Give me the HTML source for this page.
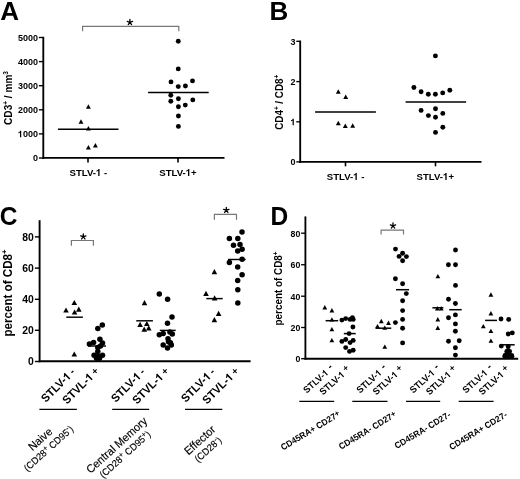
<!DOCTYPE html>
<html><head><meta charset="utf-8"><style>
html,body{margin:0;padding:0;background:#fff;}
body{width:520px;height:479px;overflow:hidden;}
svg{display:block;will-change:transform;font-family:"Liberation Sans",sans-serif;}
</style></head><body>
<svg width="520" height="479" viewBox="0 0 520 479" fill="#000">
<rect width="520" height="479" fill="#fff"></rect>
<text x="0.3" y="19.8" font-size="26" font-weight="bold" text-anchor="start">A</text>
<line x1="43.3" y1="36.8" x2="43.3" y2="158.9" stroke="#000" stroke-width="1.85"></line>
<line x1="42.4" y1="157.8" x2="224.5" y2="157.8" stroke="#000" stroke-width="1.85"></line>
<line x1="38.9" y1="37.5" x2="43.3" y2="37.5" stroke="#000" stroke-width="1.35"></line>
<text transform="translate(37.9 40.9) scale(1 1.04)" font-size="9" font-weight="bold" text-anchor="end">5000</text>
<line x1="38.9" y1="61.6" x2="43.3" y2="61.6" stroke="#000" stroke-width="1.35"></line>
<text transform="translate(37.9 65) scale(1 1.04)" font-size="9" font-weight="bold" text-anchor="end">4000</text>
<line x1="38.9" y1="85.7" x2="43.3" y2="85.7" stroke="#000" stroke-width="1.35"></line>
<text transform="translate(37.9 89.1) scale(1 1.04)" font-size="9" font-weight="bold" text-anchor="end">3000</text>
<line x1="38.9" y1="109.8" x2="43.3" y2="109.8" stroke="#000" stroke-width="1.35"></line>
<text transform="translate(37.9 113.2) scale(1 1.04)" font-size="9" font-weight="bold" text-anchor="end">2000</text>
<line x1="38.9" y1="133.9" x2="43.3" y2="133.9" stroke="#000" stroke-width="1.35"></line>
<text transform="translate(37.9 137.3) scale(1 1.04)" font-size="9" font-weight="bold" text-anchor="end"><tspan class="one" fill="transparent">1</tspan>000</text><path d="M478 0L759 0L759 1409L540 1409Q490 1300 380 1215Q275 1135 118 1085L118 862Q330 930 478 1040Z" transform="translate(37.9 137.3) scale(1 1.04) translate(-20.02 0.00) scale(0.004395 -0.004395)"></path>
<line x1="38.9" y1="158" x2="43.3" y2="158" stroke="#000" stroke-width="1.35"></line>
<text transform="translate(37.9 161.4) scale(1 1.04)" font-size="9" font-weight="bold" text-anchor="end">0</text>
<line x1="88" y1="158" x2="88" y2="162.5" stroke="#000" stroke-width="1.6"></line>
<line x1="178" y1="158" x2="178" y2="162.5" stroke="#000" stroke-width="1.6"></line>
<text transform="translate(88.35 175.9) scale(1 1.04)" font-size="9.6" font-weight="bold" text-anchor="middle">STLV-<tspan class="one" fill="transparent">1</tspan> -</text><path d="M478 0L759 0L759 1409L540 1409Q490 1300 380 1215Q275 1135 118 1085L118 862Q330 930 478 1040Z" transform="translate(88.35 175.9) scale(1 1.04) translate(7.63 0.00) scale(0.004687 -0.004687)"></path>
<text transform="translate(178 175.9) scale(1 1.04)" font-size="9.6" font-weight="bold" text-anchor="middle">STLV-<tspan class="one" fill="transparent">1</tspan>+</text><path d="M478 0L759 0L759 1409L540 1409Q490 1300 380 1215Q275 1135 118 1085L118 862Q330 930 478 1040Z" transform="translate(178 175.9) scale(1 1.04) translate(7.76 0.00) scale(0.004687 -0.004687)"></path>
<text transform="translate(11.6 98) rotate(-90) scale(1 1.04)" font-size="10.1" font-weight="bold" text-anchor="middle">CD3<tspan dy="-3.8" font-size="6.4">+</tspan><tspan dy="3.8"> / mm</tspan><tspan dy="-3.8" font-size="6.4">3</tspan></text>
<path d="M88.4 104.15L90.85 108.65L85.95 108.65Z"></path>
<path d="M81 119.15L83.45 123.65L78.55 123.65Z"></path>
<path d="M88.4 125.95L90.85 130.45L85.95 130.45Z"></path>
<path d="M88.4 145.05L90.85 149.55L85.95 149.55Z"></path>
<path d="M95.4 143.05L97.85 147.55L92.95 147.55Z"></path>
<circle cx="178.25" cy="41.25" r="2.45"></circle>
<circle cx="178.25" cy="68.9" r="2.45"></circle>
<circle cx="171" cy="81.9" r="2.45"></circle>
<circle cx="178.25" cy="86.6" r="2.45"></circle>
<circle cx="185.4" cy="86" r="2.45"></circle>
<circle cx="192.5" cy="80.9" r="2.45"></circle>
<circle cx="170.8" cy="95.2" r="2.45"></circle>
<circle cx="170.8" cy="101.3" r="2.45"></circle>
<circle cx="178.4" cy="98.7" r="2.45"></circle>
<circle cx="192.8" cy="99.9" r="2.45"></circle>
<circle cx="185.3" cy="105.1" r="2.45"></circle>
<circle cx="178.4" cy="106.8" r="2.45"></circle>
<circle cx="178.4" cy="116" r="2.45"></circle>
<circle cx="178.4" cy="126.4" r="2.45"></circle>
<line x1="58" y1="129.3" x2="118.5" y2="129.3" stroke="#000" stroke-width="1.5"></line>
<line x1="148.1" y1="92.5" x2="208.7" y2="92.5" stroke="#000" stroke-width="1.5"></line>
<path d="M82.6 31.3V26.4H178.8V31.3" fill="none" stroke="#777" stroke-width="1.2"></path>
<path d="M129.9 22.3L129.9 19.5M129.9 22.3L132.56 21.43M129.9 22.3L131.55 24.57M129.9 22.3L128.25 24.57M129.9 22.3L127.24 21.43" stroke="#000" stroke-width="1.3" stroke-linecap="round" fill="none"></path>
<text x="269.4" y="19.8" font-size="26" font-weight="bold" text-anchor="start">B</text>
<line x1="300.2" y1="40.6" x2="300.2" y2="162.8" stroke="#000" stroke-width="1.85"></line>
<line x1="299.3" y1="161.9" x2="481.5" y2="161.9" stroke="#000" stroke-width="1.85"></line>
<line x1="296.3" y1="41.3" x2="300.2" y2="41.3" stroke="#000" stroke-width="1.35"></line>
<text transform="translate(295.5 44.7) scale(1 1.04)" font-size="9" font-weight="bold" text-anchor="end">3</text>
<line x1="296.3" y1="81.6" x2="300.2" y2="81.6" stroke="#000" stroke-width="1.35"></line>
<text transform="translate(295.5 85) scale(1 1.04)" font-size="9" font-weight="bold" text-anchor="end">2</text>
<line x1="296.3" y1="121.8" x2="300.2" y2="121.8" stroke="#000" stroke-width="1.35"></line>
<text transform="translate(295.5 125.2) scale(1 1.04)" font-size="9" font-weight="bold" text-anchor="end"><tspan class="one" fill="transparent">1</tspan></text><path d="M478 0L759 0L759 1409L540 1409Q490 1300 380 1215Q275 1135 118 1085L118 862Q330 930 478 1040Z" transform="translate(295.5 125.2) scale(1 1.04) translate(-5.01 0.00) scale(0.004395 -0.004395)"></path>
<line x1="296.3" y1="161.9" x2="300.2" y2="161.9" stroke="#000" stroke-width="1.35"></line>
<text transform="translate(295.5 165.3) scale(1 1.04)" font-size="9" font-weight="bold" text-anchor="end">0</text>
<line x1="345.5" y1="161.9" x2="345.5" y2="166.3" stroke="#000" stroke-width="1.6"></line>
<line x1="435.5" y1="161.9" x2="435.5" y2="166.3" stroke="#000" stroke-width="1.6"></line>
<text transform="translate(345.6 179.9) scale(1 1.04)" font-size="9.6" font-weight="bold" text-anchor="middle">STLV-<tspan class="one" fill="transparent">1</tspan> -</text><path d="M478 0L759 0L759 1409L540 1409Q490 1300 380 1215Q275 1135 118 1085L118 862Q330 930 478 1040Z" transform="translate(345.6 179.9) scale(1 1.04) translate(7.63 0.00) scale(0.004687 -0.004687)"></path>
<text transform="translate(435.3 179.9) scale(1 1.04)" font-size="9.6" font-weight="bold" text-anchor="middle">STLV-<tspan class="one" fill="transparent">1</tspan>+</text><path d="M478 0L759 0L759 1409L540 1409Q490 1300 380 1215Q275 1135 118 1085L118 862Q330 930 478 1040Z" transform="translate(435.3 179.9) scale(1 1.04) translate(7.76 0.00) scale(0.004687 -0.004687)"></path>
<text transform="translate(283.1 102.3) rotate(-90) scale(1 1.04)" font-size="9.9" font-weight="bold" text-anchor="middle">CD4<tspan dy="-3.8" font-size="6.3">+</tspan><tspan dy="3.8"> / CD8</tspan><tspan dy="-3.8" font-size="6.3">+</tspan></text>
<path d="M338.3 89.35L340.75 93.85L335.85 93.85Z"></path>
<path d="M345.7 94.55L348.15 99.05L343.25 99.05Z"></path>
<path d="M338.3 120.85L340.75 125.35L335.85 125.35Z"></path>
<path d="M345.3 123.55L347.75 128.05L342.85 128.05Z"></path>
<path d="M352.7 123.25L355.15 127.75L350.25 127.75Z"></path>
<circle cx="435.4" cy="55.9" r="2.45"></circle>
<circle cx="413.9" cy="87.5" r="2.45"></circle>
<circle cx="421.1" cy="91.8" r="2.45"></circle>
<circle cx="428.3" cy="94.2" r="2.45"></circle>
<circle cx="435.4" cy="94.2" r="2.45"></circle>
<circle cx="442.7" cy="92.9" r="2.45"></circle>
<circle cx="449.8" cy="90.2" r="2.45"></circle>
<circle cx="421.1" cy="110.4" r="2.45"></circle>
<circle cx="435.5" cy="108.7" r="2.45"></circle>
<circle cx="428.4" cy="115.6" r="2.45"></circle>
<circle cx="435.5" cy="117.3" r="2.45"></circle>
<circle cx="442.8" cy="113.4" r="2.45"></circle>
<circle cx="442.8" cy="127.2" r="2.45"></circle>
<circle cx="435.5" cy="132.4" r="2.45"></circle>
<line x1="315.1" y1="112" x2="375.9" y2="112" stroke="#000" stroke-width="1.5"></line>
<line x1="405.6" y1="102.1" x2="466.1" y2="102.1" stroke="#000" stroke-width="1.5"></line>
<text transform="translate(-0.3 225.3) scale(1 1.04)" font-size="24.5" font-weight="bold" text-anchor="start">C</text>
<line x1="39.6" y1="220.2" x2="39.6" y2="362.2" stroke="#000" stroke-width="1.9"></line>
<line x1="38.65" y1="361.3" x2="250.6" y2="361.3" stroke="#000" stroke-width="1.9"></line>
<line x1="34.9" y1="236.9" x2="39.6" y2="236.9" stroke="#000" stroke-width="1.4"></line>
<text transform="translate(33.9 240.5) scale(1 1.04)" font-size="10.4" font-weight="bold" text-anchor="end">80</text>
<line x1="34.9" y1="268.1" x2="39.6" y2="268.1" stroke="#000" stroke-width="1.4"></line>
<text transform="translate(33.9 271.7) scale(1 1.04)" font-size="10.4" font-weight="bold" text-anchor="end">60</text>
<line x1="34.9" y1="299.3" x2="39.6" y2="299.3" stroke="#000" stroke-width="1.4"></line>
<text transform="translate(33.9 302.9) scale(1 1.04)" font-size="10.4" font-weight="bold" text-anchor="end">40</text>
<line x1="34.9" y1="330.3" x2="39.6" y2="330.3" stroke="#000" stroke-width="1.4"></line>
<text transform="translate(33.9 333.9) scale(1 1.04)" font-size="10.4" font-weight="bold" text-anchor="end">20</text>
<line x1="34.9" y1="361.5" x2="39.6" y2="361.5" stroke="#000" stroke-width="1.4"></line>
<text transform="translate(33.9 365.1) scale(1 1.04)" font-size="10.4" font-weight="bold" text-anchor="end">0</text>
<text transform="translate(11.9 293) rotate(-90) scale(1 1.04)" font-size="11.6" font-weight="bold" text-anchor="middle">percent of CD8<tspan dy="-4.6" font-size="7.7">+</tspan></text>
<path d="M74.3 299.92L77.1 305.08L71.5 305.08Z"></path>
<path d="M66 307.42L68.8 312.58L63.2 312.58Z"></path>
<path d="M74.6 309.42L77.4 314.58L71.8 314.58Z"></path>
<path d="M78.8 306.52L81.6 311.68L76 311.68Z"></path>
<path d="M74.3 351.42L77.1 356.58L71.5 356.58Z"></path>
<circle cx="97.8" cy="328.6" r="2.75"></circle>
<circle cx="102.3" cy="325.1" r="2.75"></circle>
<circle cx="89.4" cy="344" r="2.75"></circle>
<circle cx="93.6" cy="342.4" r="2.75"></circle>
<circle cx="99.9" cy="339.2" r="2.75"></circle>
<circle cx="102.5" cy="343" r="2.75"></circle>
<circle cx="97.8" cy="347.4" r="2.75"></circle>
<circle cx="94.1" cy="355.2" r="2.75"></circle>
<circle cx="102.5" cy="355.2" r="2.75"></circle>
<circle cx="97.8" cy="356.3" r="2.75"></circle>
<circle cx="97.8" cy="351.6" r="2.75"></circle>
<circle cx="96.5" cy="358.2" r="2.75"></circle>
<circle cx="99.5" cy="358.2" r="2.75"></circle>
<circle cx="100.5" cy="346" r="2.75"></circle>
<line x1="66.3" y1="317.2" x2="82.9" y2="317.2" stroke="#000" stroke-width="1.45"></line>
<line x1="88" y1="346" x2="106" y2="346" stroke="#000" stroke-width="1.45"></line>
<path d="M144.5 300.12L147.3 305.28L141.7 305.28Z"></path>
<path d="M140.1 321.82L142.9 326.98L137.3 326.98Z"></path>
<path d="M146.8 320.92L149.6 326.08L144 326.08Z"></path>
<path d="M144.2 326.62L147 331.78L141.4 331.78Z"></path>
<path d="M148.75 325.22L151.55 330.38L145.95 330.38Z"></path>
<circle cx="159.3" cy="293.9" r="2.75"></circle>
<circle cx="167.6" cy="299.2" r="2.75"></circle>
<circle cx="172" cy="316.9" r="2.75"></circle>
<circle cx="167.5" cy="323.3" r="2.75"></circle>
<circle cx="159.3" cy="334.8" r="2.75"></circle>
<circle cx="163.2" cy="333.6" r="2.75"></circle>
<circle cx="169.9" cy="332.1" r="2.75"></circle>
<circle cx="172.3" cy="334" r="2.75"></circle>
<circle cx="168" cy="338.8" r="2.75"></circle>
<circle cx="168.5" cy="341.7" r="2.75"></circle>
<circle cx="163.2" cy="345.1" r="2.75"></circle>
<circle cx="171.3" cy="345.1" r="2.75"></circle>
<circle cx="167.5" cy="348" r="2.75"></circle>
<circle cx="170.4" cy="342.7" r="2.75"></circle>
<line x1="136.25" y1="320.8" x2="152.9" y2="320.8" stroke="#000" stroke-width="1.45"></line>
<line x1="159.8" y1="330.4" x2="175.7" y2="330.4" stroke="#000" stroke-width="1.45"></line>
<path d="M214.4 269.12L217.2 274.28L211.6 274.28Z"></path>
<path d="M206 290.72L208.8 295.88L203.2 295.88Z"></path>
<path d="M214.6 295.32L217.4 300.48L211.8 300.48Z"></path>
<path d="M218.6 310.72L221.4 315.88L215.8 315.88Z"></path>
<path d="M214.4 317.02L217.2 322.18L211.6 322.18Z"></path>
<circle cx="242" cy="231.9" r="2.75"></circle>
<circle cx="229.4" cy="238.4" r="2.75"></circle>
<circle cx="237.8" cy="238.5" r="2.75"></circle>
<circle cx="233.5" cy="245.3" r="2.75"></circle>
<circle cx="240" cy="244.6" r="2.75"></circle>
<circle cx="242.1" cy="249.2" r="2.75"></circle>
<circle cx="237.7" cy="250.9" r="2.75"></circle>
<circle cx="242.1" cy="259.2" r="2.75"></circle>
<circle cx="229.4" cy="262.5" r="2.75"></circle>
<circle cx="237.7" cy="266.9" r="2.75"></circle>
<circle cx="242.1" cy="274.8" r="2.75"></circle>
<circle cx="237.7" cy="280.6" r="2.75"></circle>
<circle cx="237.8" cy="289.8" r="2.75"></circle>
<circle cx="237.8" cy="302.9" r="2.75"></circle>
<line x1="206.3" y1="298.6" x2="222.7" y2="298.6" stroke="#000" stroke-width="1.45"></line>
<line x1="228" y1="259.5" x2="245.6" y2="259.5" stroke="#000" stroke-width="1.45"></line>
<path d="M71.4 245.8V240.5H93.4V245.8" fill="none" stroke="#777" stroke-width="1.2"></path>
<path d="M83.3 236.7L83.3 233.9M83.3 236.7L85.96 235.83M83.3 236.7L84.95 238.97M83.3 236.7L81.65 238.97M83.3 236.7L80.64 235.83" stroke="#000" stroke-width="1.3" stroke-linecap="round" fill="none"></path>
<path d="M214.4 219.7V214.3H236.5V219.7" fill="none" stroke="#777" stroke-width="1.2"></path>
<path d="M226.3 210.2L226.3 207.4M226.3 210.2L228.96 209.33M226.3 210.2L227.95 212.47M226.3 210.2L224.65 212.47M226.3 210.2L223.64 209.33" stroke="#000" stroke-width="1.3" stroke-linecap="round" fill="none"></path>
<text transform="translate(45.8 403) rotate(-45) scale(1 1.04)" font-size="11.1" font-weight="bold">STLV-<tspan class="one" fill="transparent">1</tspan><tspan dx="2.4" dy="-0.2" font-size="11">-</tspan></text><path d="M478 0L759 0L759 1409L540 1409Q490 1300 380 1215Q275 1135 118 1085L118 862Q330 930 478 1040Z" transform="translate(45.8 403) rotate(-45) scale(1 1.04) translate(30.60 0.00) scale(0.005420 -0.005420)"></path>
<text transform="translate(67.1 404.8) rotate(-45) scale(1 1.04)" font-size="11.1" font-weight="bold">STVL-<tspan class="one" fill="transparent">1</tspan><tspan dx="2.5" dy="-0.8" font-size="9.6">+</tspan></text><path d="M478 0L759 0L759 1409L540 1409Q490 1300 380 1215Q275 1135 118 1085L118 862Q330 930 478 1040Z" transform="translate(67.1 404.8) rotate(-45) scale(1 1.04) translate(32.04 0.00) scale(0.005420 -0.005420)"></path>
<text transform="translate(115.8 403) rotate(-45) scale(1 1.04)" font-size="11.1" font-weight="bold">STLV-<tspan class="one" fill="transparent">1</tspan><tspan dx="2.4" dy="-0.2" font-size="11">-</tspan></text><path d="M478 0L759 0L759 1409L540 1409Q490 1300 380 1215Q275 1135 118 1085L118 862Q330 930 478 1040Z" transform="translate(115.8 403) rotate(-45) scale(1 1.04) translate(30.60 0.00) scale(0.005420 -0.005420)"></path>
<text transform="translate(137.1 404.8) rotate(-45) scale(1 1.04)" font-size="11.1" font-weight="bold">STVL-<tspan class="one" fill="transparent">1</tspan><tspan dx="2.5" dy="-0.8" font-size="9.6">+</tspan></text><path d="M478 0L759 0L759 1409L540 1409Q490 1300 380 1215Q275 1135 118 1085L118 862Q330 930 478 1040Z" transform="translate(137.1 404.8) rotate(-45) scale(1 1.04) translate(32.04 0.00) scale(0.005420 -0.005420)"></path>
<text transform="translate(185.8 403) rotate(-45) scale(1 1.04)" font-size="11.1" font-weight="bold">STLV-<tspan class="one" fill="transparent">1</tspan><tspan dx="2.4" dy="-0.2" font-size="11">-</tspan></text><path d="M478 0L759 0L759 1409L540 1409Q490 1300 380 1215Q275 1135 118 1085L118 862Q330 930 478 1040Z" transform="translate(185.8 403) rotate(-45) scale(1 1.04) translate(30.60 0.00) scale(0.005420 -0.005420)"></path>
<text transform="translate(207.1 404.8) rotate(-45) scale(1 1.04)" font-size="11.1" font-weight="bold">STVL-<tspan class="one" fill="transparent">1</tspan><tspan dx="2.5" dy="-0.8" font-size="9.6">+</tspan></text><path d="M478 0L759 0L759 1409L540 1409Q490 1300 380 1215Q275 1135 118 1085L118 862Q330 930 478 1040Z" transform="translate(207.1 404.8) rotate(-45) scale(1 1.04) translate(32.04 0.00) scale(0.005420 -0.005420)"></path>
<line x1="39.4" y1="409.4" x2="76.9" y2="409.4" stroke="#000" stroke-width="1.4"></line>
<line x1="112.2" y1="409.4" x2="149.2" y2="409.4" stroke="#000" stroke-width="1.4"></line>
<line x1="185" y1="409.4" x2="222.3" y2="409.4" stroke="#000" stroke-width="1.4"></line>
<g transform="translate(45 444.5) rotate(-42)"><text transform="translate(0 -3.3) scale(1 1.04)" font-size="10.9" text-anchor="middle" stroke="#000" stroke-width="0.15">Naive</text><text transform="translate(0 8.6) scale(1 1.04)" font-size="9.3" text-anchor="middle" stroke="#000" stroke-width="0.15">(CD28<tspan dy="-3.2" font-size="7.2">+</tspan><tspan dy="3.2"> CD95</tspan><tspan dy="-3.2" font-size="7.2">-</tspan><tspan dy="3.2">)</tspan></text></g>
<g transform="translate(121.5 450.5) rotate(-42)"><text transform="translate(0 -3.3) scale(1 1.04)" font-size="10.9" text-anchor="middle" stroke="#000" stroke-width="0.15">Central Memory</text><text transform="translate(0 8.6) scale(1 1.04)" font-size="9.3" text-anchor="middle" stroke="#000" stroke-width="0.15">(CD28<tspan dy="-3.2" font-size="7.2">+</tspan><tspan dy="3.2"> CD95</tspan><tspan dy="-3.2" font-size="7.2">+</tspan><tspan dy="3.2">)</tspan></text></g>
<g transform="translate(204.5 445.5) rotate(-42)"><text transform="translate(0 -3.3) scale(1 1.04)" font-size="10.9" text-anchor="middle" stroke="#000" stroke-width="0.15">Effector</text><text transform="translate(0 8.6) scale(1 1.04)" font-size="9.3" text-anchor="middle" stroke="#000" stroke-width="0.15">(CD28<tspan dy="-3.2" font-size="7.2">-</tspan><tspan dy="3.2">)</tspan></text></g>
<text transform="translate(270.6 225) scale(1 1.04)" font-size="24.5" font-weight="bold" text-anchor="start">D</text>
<line x1="305.4" y1="216.4" x2="305.4" y2="359.6" stroke="#000" stroke-width="1.85"></line>
<line x1="304.5" y1="358.7" x2="518.2" y2="358.7" stroke="#000" stroke-width="1.85"></line>
<line x1="301.1" y1="233.2" x2="305.4" y2="233.2" stroke="#000" stroke-width="1.35"></line>
<text transform="translate(300.4 236.5) scale(1 1.04)" font-size="8.8" font-weight="bold" text-anchor="end">80</text>
<line x1="301.1" y1="264.75" x2="305.4" y2="264.75" stroke="#000" stroke-width="1.35"></line>
<text transform="translate(300.4 268.05) scale(1 1.04)" font-size="8.8" font-weight="bold" text-anchor="end">60</text>
<line x1="301.1" y1="296.2" x2="305.4" y2="296.2" stroke="#000" stroke-width="1.35"></line>
<text transform="translate(300.4 299.5) scale(1 1.04)" font-size="8.8" font-weight="bold" text-anchor="end">40</text>
<line x1="301.1" y1="327.5" x2="305.4" y2="327.5" stroke="#000" stroke-width="1.35"></line>
<text transform="translate(300.4 330.8) scale(1 1.04)" font-size="8.8" font-weight="bold" text-anchor="end">20</text>
<line x1="301.1" y1="358.7" x2="305.4" y2="358.7" stroke="#000" stroke-width="1.35"></line>
<text transform="translate(300.4 362) scale(1 1.04)" font-size="8.8" font-weight="bold" text-anchor="end">0</text>
<text transform="translate(281.6 288.4) rotate(-90) scale(1 1.04)" font-size="9.9" font-weight="bold" text-anchor="middle">percent of CD8<tspan dy="-3.9" font-size="6.6">+</tspan></text>
<path d="M324.8 305.09L327.2 309.51L322.4 309.51Z"></path>
<path d="M331.9 308.09L334.3 312.51L329.5 312.51Z"></path>
<path d="M331.9 317.19L334.3 321.61L329.5 321.61Z"></path>
<path d="M331.9 326.89L334.3 331.31L329.5 331.31Z"></path>
<path d="M331.9 337.89L334.3 342.31L329.5 342.31Z"></path>
<circle cx="341.9" cy="320.1" r="2.45"></circle>
<circle cx="345.7" cy="318.6" r="2.45"></circle>
<circle cx="350.1" cy="319.4" r="2.45"></circle>
<circle cx="352.4" cy="317.6" r="2.45"></circle>
<circle cx="353.2" cy="319.4" r="2.45"></circle>
<circle cx="352.9" cy="327" r="2.45"></circle>
<circle cx="349.1" cy="333.6" r="2.45"></circle>
<circle cx="341.9" cy="341.4" r="2.45"></circle>
<circle cx="345.7" cy="339.5" r="2.45"></circle>
<circle cx="350.1" cy="342.6" r="2.45"></circle>
<circle cx="353.2" cy="340.4" r="2.45"></circle>
<circle cx="345.7" cy="347.6" r="2.45"></circle>
<circle cx="349.5" cy="351.4" r="2.45"></circle>
<circle cx="353.2" cy="350.2" r="2.45"></circle>
<line x1="325.6" y1="320.7" x2="338.2" y2="320.7" stroke="#000" stroke-width="1.5"></line>
<line x1="343.8" y1="333.6" x2="355.7" y2="333.6" stroke="#000" stroke-width="1.5"></line>
<path d="M381.3 318.79L383.7 323.21L378.9 323.21Z"></path>
<path d="M388.5 320.59L390.9 325.01L386.1 325.01Z"></path>
<path d="M377.5 323.89L379.9 328.31L375.1 328.31Z"></path>
<path d="M384.8 325.39L387.2 329.81L382.4 329.81Z"></path>
<path d="M384.8 344.39L387.2 348.81L382.4 348.81Z"></path>
<circle cx="395.5" cy="249.1" r="2.45"></circle>
<circle cx="402.6" cy="253.2" r="2.45"></circle>
<circle cx="399.1" cy="256.4" r="2.45"></circle>
<circle cx="406.4" cy="256.6" r="2.45"></circle>
<circle cx="402.6" cy="260.8" r="2.45"></circle>
<circle cx="395.4" cy="278.8" r="2.45"></circle>
<circle cx="402.6" cy="283.8" r="2.45"></circle>
<circle cx="406.3" cy="293.6" r="2.45"></circle>
<circle cx="402.6" cy="300.8" r="2.45"></circle>
<circle cx="402.6" cy="310.6" r="2.45"></circle>
<circle cx="402.6" cy="319.4" r="2.45"></circle>
<circle cx="395.4" cy="322.6" r="2.45"></circle>
<circle cx="402.6" cy="328.2" r="2.45"></circle>
<circle cx="402.6" cy="342.9" r="2.45"></circle>
<line x1="375.6" y1="328.2" x2="391.3" y2="328.2" stroke="#000" stroke-width="1.5"></line>
<line x1="396" y1="289.7" x2="409.1" y2="289.7" stroke="#000" stroke-width="1.5"></line>
<path d="M437.9 273.89L440.3 278.31L435.5 278.31Z"></path>
<path d="M437.3 306.09L439.7 310.51L434.9 310.51Z"></path>
<path d="M441.2 306.09L443.6 310.51L438.8 310.51Z"></path>
<path d="M437.8 316.99L440.2 321.41L435.4 321.41Z"></path>
<path d="M437.8 325.49L440.2 329.91L435.4 329.91Z"></path>
<circle cx="455.5" cy="250" r="2.45"></circle>
<circle cx="448.4" cy="264.7" r="2.45"></circle>
<circle cx="455.5" cy="264.7" r="2.45"></circle>
<circle cx="455.5" cy="285.4" r="2.45"></circle>
<circle cx="448.5" cy="299.2" r="2.45"></circle>
<circle cx="455.4" cy="303.5" r="2.45"></circle>
<circle cx="455.4" cy="314.9" r="2.45"></circle>
<circle cx="448.5" cy="317.8" r="2.45"></circle>
<circle cx="455.4" cy="323.9" r="2.45"></circle>
<circle cx="455.4" cy="331.2" r="2.45"></circle>
<circle cx="448.5" cy="341.2" r="2.45"></circle>
<circle cx="459.2" cy="340.7" r="2.45"></circle>
<circle cx="455.4" cy="347.7" r="2.45"></circle>
<circle cx="455.4" cy="355.1" r="2.45"></circle>
<line x1="432.4" y1="307.8" x2="443.4" y2="307.8" stroke="#000" stroke-width="1.5"></line>
<line x1="449.2" y1="309.7" x2="461.7" y2="309.7" stroke="#000" stroke-width="1.5"></line>
<path d="M490.9 292.29L493.3 296.71L488.5 296.71Z"></path>
<path d="M490.9 311.09L493.3 315.51L488.5 315.51Z"></path>
<path d="M483.3 323.89L485.7 328.31L480.9 328.31Z"></path>
<path d="M490.9 328.69L493.3 333.11L488.5 333.11Z"></path>
<path d="M490.9 338.39L493.3 342.81L488.5 342.81Z"></path>
<circle cx="501" cy="319" r="2.45"></circle>
<circle cx="508.7" cy="319.4" r="2.45"></circle>
<circle cx="508.2" cy="334" r="2.45"></circle>
<circle cx="512.3" cy="332.9" r="2.45"></circle>
<circle cx="501.3" cy="346.1" r="2.45"></circle>
<circle cx="508.2" cy="346.4" r="2.45"></circle>
<circle cx="508.2" cy="350.4" r="2.45"></circle>
<circle cx="505.3" cy="355.2" r="2.45"></circle>
<circle cx="511.6" cy="355.4" r="2.45"></circle>
<circle cx="508.2" cy="355.9" r="2.45"></circle>
<circle cx="506.8" cy="351.5" r="2.45"></circle>
<circle cx="509.6" cy="351.5" r="2.45"></circle>
<circle cx="508.2" cy="353.2" r="2.45"></circle>
<circle cx="504.8" cy="356.2" r="2.45"></circle>
<circle cx="511.9" cy="356.2" r="2.45"></circle>
<line x1="485.1" y1="320.4" x2="497" y2="320.4" stroke="#000" stroke-width="1.5"></line>
<line x1="502" y1="344.8" x2="514.7" y2="344.8" stroke="#000" stroke-width="1.5"></line>
<path d="M381.1 234.5V230.1H403.5V234.5" fill="none" stroke="#777" stroke-width="1.2"></path>
<path d="M393 225.8L393 223M393 225.8L395.66 224.93M393 225.8L394.65 228.07M393 225.8L391.35 228.07M393 225.8L390.34 224.93" stroke="#000" stroke-width="1.3" stroke-linecap="round" fill="none"></path>
<text transform="translate(306.8 393.8) rotate(-42) scale(1 1.04)" font-size="9.1" font-weight="bold">STLV-<tspan class="one" fill="transparent">1</tspan> <tspan dx="1" dy="-1.6" font-size="10">-</tspan></text><path d="M478 0L759 0L759 1409L540 1409Q490 1300 380 1215Q275 1135 118 1085L118 862Q330 930 478 1040Z" transform="translate(306.8 393.8) rotate(-42) scale(1 1.04) translate(25.07 0.00) scale(0.004443 -0.004443)"></path>
<text transform="translate(323 395.5) rotate(-42) scale(1 1.04)" font-size="9.1" font-weight="bold">STLV-<tspan class="one" fill="transparent">1</tspan> <tspan dy="-2.2" font-size="8.6">+</tspan></text><path d="M478 0L759 0L759 1409L540 1409Q490 1300 380 1215Q275 1135 118 1085L118 862Q330 930 478 1040Z" transform="translate(323 395.5) rotate(-42) scale(1 1.04) translate(25.07 0.00) scale(0.004443 -0.004443)"></path>
<text transform="translate(360 393.8) rotate(-42) scale(1 1.04)" font-size="9.1" font-weight="bold">STLV-<tspan class="one" fill="transparent">1</tspan> <tspan dx="1" dy="-1.6" font-size="10">-</tspan></text><path d="M478 0L759 0L759 1409L540 1409Q490 1300 380 1215Q275 1135 118 1085L118 862Q330 930 478 1040Z" transform="translate(360 393.8) rotate(-42) scale(1 1.04) translate(25.07 0.00) scale(0.004443 -0.004443)"></path>
<text transform="translate(376.2 395.5) rotate(-42) scale(1 1.04)" font-size="9.1" font-weight="bold">STLV-<tspan class="one" fill="transparent">1</tspan> <tspan dy="-2.2" font-size="8.6">+</tspan></text><path d="M478 0L759 0L759 1409L540 1409Q490 1300 380 1215Q275 1135 118 1085L118 862Q330 930 478 1040Z" transform="translate(376.2 395.5) rotate(-42) scale(1 1.04) translate(25.07 0.00) scale(0.004443 -0.004443)"></path>
<text transform="translate(413.2 393.8) rotate(-42) scale(1 1.04)" font-size="9.1" font-weight="bold">STLV-<tspan class="one" fill="transparent">1</tspan> <tspan dx="1" dy="-1.6" font-size="10">-</tspan></text><path d="M478 0L759 0L759 1409L540 1409Q490 1300 380 1215Q275 1135 118 1085L118 862Q330 930 478 1040Z" transform="translate(413.2 393.8) rotate(-42) scale(1 1.04) translate(25.07 0.00) scale(0.004443 -0.004443)"></path>
<text transform="translate(429.4 395.5) rotate(-42) scale(1 1.04)" font-size="9.1" font-weight="bold">STLV-<tspan class="one" fill="transparent">1</tspan> <tspan dy="-2.2" font-size="8.6">+</tspan></text><path d="M478 0L759 0L759 1409L540 1409Q490 1300 380 1215Q275 1135 118 1085L118 862Q330 930 478 1040Z" transform="translate(429.4 395.5) rotate(-42) scale(1 1.04) translate(25.07 0.00) scale(0.004443 -0.004443)"></path>
<text transform="translate(466 393.8) rotate(-42) scale(1 1.04)" font-size="9.1" font-weight="bold">STLV-<tspan class="one" fill="transparent">1</tspan> <tspan dx="1" dy="-1.6" font-size="10">-</tspan></text><path d="M478 0L759 0L759 1409L540 1409Q490 1300 380 1215Q275 1135 118 1085L118 862Q330 930 478 1040Z" transform="translate(466 393.8) rotate(-42) scale(1 1.04) translate(25.07 0.00) scale(0.004443 -0.004443)"></path>
<text transform="translate(482.2 395.5) rotate(-42) scale(1 1.04)" font-size="9.1" font-weight="bold">STLV-<tspan class="one" fill="transparent">1</tspan> <tspan dy="-2.2" font-size="8.6">+</tspan></text><path d="M478 0L759 0L759 1409L540 1409Q490 1300 380 1215Q275 1135 118 1085L118 862Q330 930 478 1040Z" transform="translate(482.2 395.5) rotate(-42) scale(1 1.04) translate(25.07 0.00) scale(0.004443 -0.004443)"></path>
<line x1="299.3" y1="401.4" x2="334.2" y2="401.4" stroke="#000" stroke-width="1.4"></line>
<line x1="352.3" y1="401.4" x2="387.5" y2="401.4" stroke="#000" stroke-width="1.4"></line>
<line x1="406" y1="401.4" x2="440.2" y2="401.4" stroke="#000" stroke-width="1.4"></line>
<line x1="458.7" y1="401.4" x2="493.6" y2="401.4" stroke="#000" stroke-width="1.4"></line>
<text transform="translate(283 450.6) rotate(-31) scale(1 1.04)" font-size="8.5" font-weight="bold">CD45RA+ CD27<tspan dy="-1.2" font-size="8">+</tspan></text>
<text transform="translate(341 449.8) rotate(-31) scale(1 1.04)" font-size="8.5" font-weight="bold">CD45RA- CD27<tspan dy="-1.2" font-size="8">+</tspan></text>
<text transform="translate(396.8 449.1) rotate(-31) scale(1 1.04)" font-size="8.5" font-weight="bold">CD45RA- CD27-</text>
<text transform="translate(451.5 450.2) rotate(-31) scale(1 1.04)" font-size="8.5" font-weight="bold">CD45RA+ CD27-</text>
</svg>

</body></html>
